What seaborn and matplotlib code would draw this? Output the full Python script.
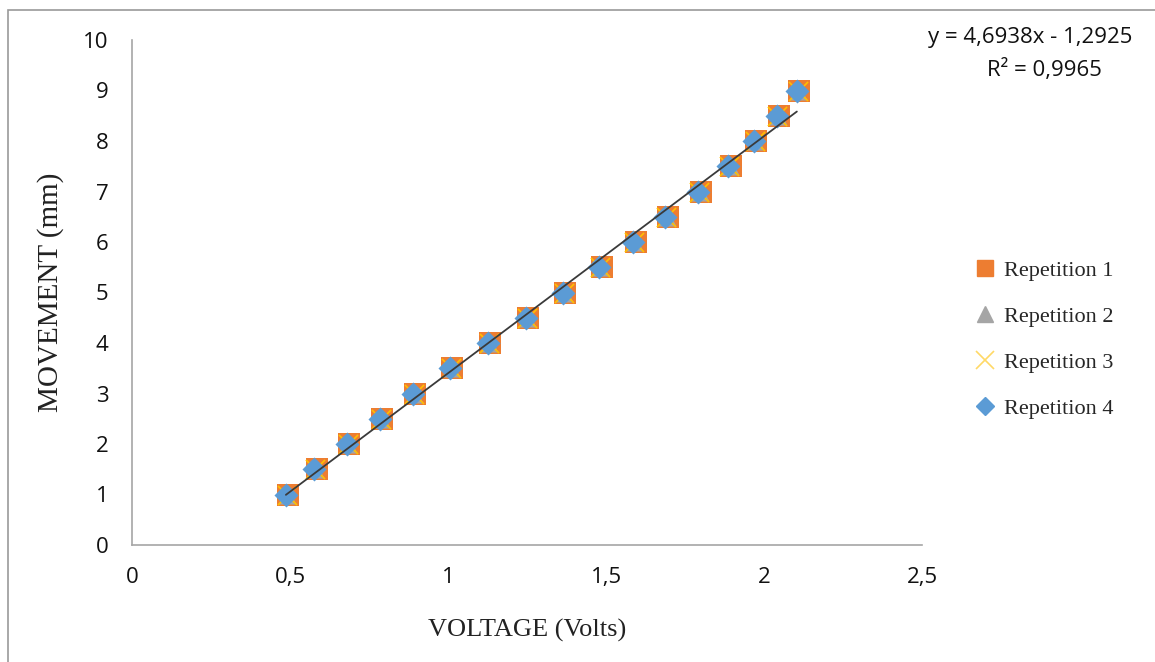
import matplotlib
matplotlib.use("Agg")
import matplotlib.pyplot as plt
import matplotlib.patches as mpatches
from matplotlib.ticker import FuncFormatter
from matplotlib.lines import Line2D
import seaborn as sns
import pandas as pd
import numpy as np

# ---- data ----
movement = [1, 1.5, 2, 2.5, 3, 3.5, 4, 4.5, 5, 5.5, 6, 6.5, 7, 7.5, 8, 8.5, 9]
voltage_rep1 = [0.495, 0.584, 0.688, 0.792, 0.897, 1.013, 1.134, 1.254, 1.371, 1.486, 1.594, 1.696, 1.800, 1.895, 1.976, 2.047, 2.112]
voltage_rep2 = [0.490, 0.580, 0.684, 0.788, 0.892, 1.009, 1.130, 1.250, 1.367, 1.482, 1.590, 1.692, 1.796, 1.891, 1.972, 2.043, 2.108]
voltage_rep3 = [0.489, 0.579, 0.683, 0.787, 0.891, 1.008, 1.129, 1.249, 1.366, 1.481, 1.589, 1.691, 1.795, 1.890, 1.971, 2.042, 2.107]
voltage_rep4 = [0.487, 0.576, 0.680, 0.784, 0.888, 1.005, 1.126, 1.246, 1.363, 1.478, 1.586, 1.688, 1.792, 1.887, 1.968, 2.040, 2.104]
series_names = ["Repetition 1", "Repetition 2", "Repetition 3", "Repetition 4"]
trend_slope = 4.6938
trend_intercept = -1.2925
r_squared = 0.9965
x_ticks = [0, 0.5, 1, 1.5, 2, 2.5]
y_ticks = list(range(0, 11))

sns.set_style("white")
plt.rcParams['font.family'] = ['Open Sans', 'DejaVu Sans']

fig = plt.figure(figsize=(11.55, 6.62), dpi=100)
ax = fig.add_axes([132/1155, 1-545/662, (922-132)/1155, (545-40)/662])

colors = ["#ED7D31", "#A5A5A5", "#FFC000", "#5B9BD5"]
markers = ["s", "^", "x", "D"]
sizes = [230, 170, 190, 150]
all_v = [voltage_rep1, voltage_rep2, voltage_rep3, voltage_rep4]

for name, v, c, m, s in zip(series_names, all_v, colors, markers, sizes):
    df = pd.DataFrame({"v": v, "m": movement})
    if m == "x":
        sns.scatterplot(data=df, x="v", y="m", ax=ax, marker=m, color=c, s=s,
                        linewidth=1.2, zorder=3)
    else:
        sns.scatterplot(data=df, x="v", y="m", ax=ax, marker=m, color=c, s=s,
                        linewidth=0, zorder=3)

# trend line from the equation over the data range
xs = np.array([min(voltage_rep4), max(voltage_rep4)])
trend_df = pd.DataFrame({"v": xs, "m": trend_slope * xs + trend_intercept})
sns.lineplot(data=trend_df, x="v", y="m", ax=ax, color="#3a3a3a", linewidth=1.3, zorder=4)

ax.set_xlim(0, 2.5)
ax.set_ylim(0, 10)
ax.set_xticks(x_ticks)
ax.set_yticks(y_ticks)
fmt = FuncFormatter(lambda val, pos: ('%g' % val).replace('.', ','))
ax.xaxis.set_major_formatter(fmt)
ax.yaxis.set_major_formatter(fmt)
ax.tick_params(axis='both', length=0, labelsize=16, colors="#111111")
ax.tick_params(axis='x', pad=16)
ax.tick_params(axis='y', pad=17)
for sp in ["top", "right"]:
    ax.spines[sp].set_visible(False)
for sp in ["left", "bottom"]:
    ax.spines[sp].set_color("#a6a6a6")
    ax.spines[sp].set_linewidth(1.2)

ax.set_xlabel("VOLTAGE (Volts)", family="Liberation Serif", fontsize=19, color="#222222", labelpad=22)
ax.set_ylabel("MOVEMENT (mm)", family="Liberation Serif", fontsize=21, color="#222222")
ax.yaxis.set_label_coords(-68/790, 0.5)

# equation
fig.text(1132/1155, 1-38/662, "y = 4,6938x - 1,2925", ha="right", va="center", fontsize=16,
         family="Open Sans", color="#111111")
fig.text(1102/1155, 1-70/662, "R² = 0,9965", ha="right", va="center", fontsize=16,
         family="Open Sans", color="#111111")

handles = [
    Line2D([], [], marker="s", color=colors[0], linestyle="none", markersize=12),
    Line2D([], [], marker="^", color=colors[1], linestyle="none", markersize=11),
    Line2D([], [], marker="x", color="#FFD966", linestyle="none", markersize=13, markeredgewidth=1.2),
    Line2D([], [], marker="D", color=colors[3], linestyle="none", markersize=9),
]
leg = fig.legend(handles, series_names, loc="upper left", bbox_to_anchor=(963/1155, 1-249/662),
                 frameon=False, prop={"family": "Liberation Serif", "size": 16},
                 labelspacing=1.15, handletextpad=0.35, handlelength=1.0, borderpad=0)

# chart-area border
fig.patches.append(mpatches.Rectangle((8/1155, -0.05), 1.2, 1.05 - 10/662,
                                      transform=fig.transFigure, fill=False,
                                      edgecolor="#9a9a9a", linewidth=1.2))

fig.savefig("out.png", dpi=100)
